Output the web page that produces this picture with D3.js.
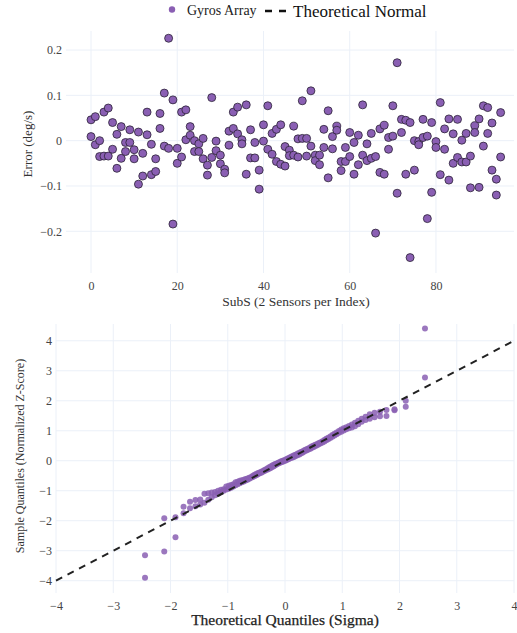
<!DOCTYPE html>
<html>
<head>
<meta charset="utf-8">
<script src="https://cdn.jsdelivr.net/npm/d3@7"></script>
<style>
  body { margin: 0; background: #fff; }
  svg { display: block; }
  text { font-family: "Liberation Serif", "Times New Roman", serif; }
</style>
</head>
<body>
<svg id="chart" width="517" height="633"></svg>
<script>
// Gyro error per sub-sensor index: two sensors read at every index (deg/s)
const sensorIndex = d3.range(96);
const readingA = [
  0.046, 0.053, 0.000, 0.063, 0.072, 0.040, 0.014, 0.031, -0.004, 0.024,
  -0.020, 0.019, -0.028, 0.063, -0.008, -0.040, 0.060, 0.105, 0.226, 0.090,
  -0.017, 0.063, 0.068, 0.031, 0.000, -0.007, 0.005, -0.054, 0.095, -0.001,
  -0.032, -0.063, 0.021, 0.063, 0.074, 0.002, 0.079, 0.024, -0.004, -0.065,
  0.035, 0.077, 0.016, 0.025, 0.035, -0.013, -0.021, 0.032, 0.004, 0.088,
  0.005, 0.110, -0.032, -0.032, 0.025, 0.066, 0.009, 0.032, -0.046, -0.015,
  0.018, -0.004, 0.012, 0.079, -0.007, 0.016, -0.035, 0.026, 0.034, 0.007,
  0.077, 0.172, 0.047, 0.045, 0.040, 0.000, -0.002, 0.047, 0.010, 0.040,
  -0.002, 0.084, 0.026, 0.048, 0.015, 0.047, 0.001, 0.016, -0.034, 0.033,
  0.048, 0.077, 0.073, 0.039, -0.085, 0.062
];
const readingB = [
  0.009, -0.009, -0.035, -0.034, -0.034, -0.019, -0.061, -0.039, -0.024, -0.004,
  -0.040, -0.096, -0.078, 0.013, -0.075, -0.068, 0.027, -0.012, -0.017, -0.184,
  -0.050, -0.036, 0.002, 0.012, -0.024, -0.024, -0.040, -0.076, -0.037, -0.022,
  -0.051, -0.071, -0.010, 0.027, 0.015, -0.007, -0.074, -0.038, -0.038, -0.107,
  -0.001, -0.019, -0.030, -0.046, -0.052, -0.056, -0.033, -0.032, -0.036, 0.005,
  -0.034, -0.012, -0.044, -0.053, -0.015, -0.082, -0.018, 0.023, -0.066, -0.046,
  -0.035, -0.074, -0.053, -0.032, -0.044, -0.039, -0.204, -0.070, -0.074, -0.019,
  0.010, -0.116, 0.018, -0.074, -0.258, -0.065, -0.009, 0.007, -0.172, -0.114,
  -0.015, -0.075, -0.019, -0.087, -0.050, -0.037, -0.047, -0.047, -0.104, 0.018,
  -0.103, -0.012, 0.016, -0.065, -0.120, -0.036
];

// Normal probability plot: theoretical quantiles (sigma) and sorted z-scores per sensor
const theoreticalQuantiles = [
  -2.445, -2.109, -1.913, -1.772, -1.659, -1.564, -1.480, -1.407, -1.340, -1.279,
  -1.222, -1.168, -1.118, -1.071, -1.026, -0.983, -0.942, -0.902, -0.864, -0.827,
  -0.791, -0.755, -0.721, -0.688, -0.655, -0.623, -0.592, -0.561, -0.531, -0.502,
  -0.472, -0.443, -0.415, -0.386, -0.358, -0.331, -0.303, -0.276, -0.250, -0.223,
  -0.196, -0.170, -0.144, -0.117, -0.091, -0.065, -0.039, -0.013,
  0.013, 0.039, 0.065, 0.091, 0.117, 0.144, 0.170, 0.196, 0.223, 0.250,
  0.276, 0.303, 0.331, 0.358, 0.386, 0.415, 0.443, 0.472, 0.502, 0.531,
  0.561, 0.592, 0.623, 0.655, 0.688, 0.721, 0.755, 0.791, 0.827, 0.864,
  0.902, 0.942, 0.983, 1.026, 1.071, 1.118, 1.168, 1.222, 1.279, 1.340,
  1.407, 1.480, 1.564, 1.659, 1.772, 1.913, 2.109, 2.445
];
const sampleQuantilesA = [
  -3.90, -3.03, -2.55, -1.75, -1.58, -1.52, -1.46, -1.40, -1.30, -1.22,
  -1.15, -1.10, -1.05, -1.00, -0.96, -0.93, -0.90, -0.86, -0.82, -0.78,
  -0.75, -0.72, -0.69, -0.66, -0.63, -0.60, -0.57, -0.54, -0.51, -0.48,
  -0.45, -0.42, -0.40, -0.37, -0.34, -0.31, -0.29, -0.27, -0.24, -0.21,
  -0.18, -0.15, -0.12, -0.09, -0.07, -0.05, -0.03, -0.01, 0.01, 0.03,
  0.06, 0.08, 0.10, 0.12, 0.14, 0.17, 0.19, 0.21, 0.24, 0.27,
  0.30, 0.33, 0.35, 0.38, 0.40, 0.43, 0.46, 0.49, 0.52, 0.55,
  0.58, 0.61, 0.64, 0.68, 0.72, 0.76, 0.80, 0.84, 0.88, 0.93,
  0.97, 1.01, 1.05, 1.08, 1.11, 1.15, 1.22, 1.30, 1.36, 1.40,
  1.45, 1.48, 1.49, 1.68, 1.80, 2.78
];
const sampleQuantilesB = [
  -3.15, -1.92, -1.88, -1.53, -1.37, -1.31, -1.29, -1.10, -1.08, -1.06,
  -1.04, -1.00, -0.97, -0.95, -0.86, -0.83, -0.81, -0.78, -0.72, -0.70,
  -0.67, -0.65, -0.63, -0.61, -0.59, -0.57, -0.54, -0.50, -0.47, -0.44,
  -0.41, -0.39, -0.37, -0.34, -0.31, -0.28, -0.25, -0.22, -0.19, -0.16,
  -0.13, -0.11, -0.09, -0.07, -0.04, -0.02, 0.00, 0.02, 0.04, 0.07,
  0.09, 0.12, 0.14, 0.17, 0.19, 0.21, 0.24, 0.26, 0.29, 0.31,
  0.34, 0.37, 0.39, 0.42, 0.45, 0.48, 0.51, 0.53, 0.56, 0.59,
  0.62, 0.65, 0.69, 0.73, 0.77, 0.81, 0.86, 0.90, 0.94, 0.99,
  1.04, 1.08, 1.12, 1.16, 1.21, 1.27, 1.33, 1.40, 1.47, 1.55,
  1.60, 1.63, 1.69, 1.72, 2.00, 4.41
];
const referenceLine = [-4, 4];   // y = x, the theoretical normal

// Tick labels
const errorXTicks = [0, 20, 40, 60, 80];
const errorYTicks = [-0.2, -0.1, 0, 0.1, 0.2];
const qqTicks = [-4, -3, -2, -1, 0, 1, 2, 3, 4];

const markerFill = "#8a5fb3";
const gridColor = "#ebf0f8";
const svg = d3.select("#chart");

function grid(g, xs, ys, xTicks, yTicks) {
  const [x0, x1] = xs.range();
  const [y0, y1] = ys.range();
  g.append("g").selectAll("line").data(xTicks).join("line")
    .attr("x1", d => xs(d)).attr("x2", d => xs(d))
    .attr("y1", y0).attr("y2", y1)
    .attr("stroke", gridColor).attr("stroke-width", 1);
  g.append("g").selectAll("line").data(yTicks).join("line")
    .attr("x1", x0).attr("x2", x1)
    .attr("y1", d => ys(d)).attr("y2", d => ys(d))
    .attr("stroke", gridColor).attr("stroke-width", 1);
}

function styleAxis(g) {
  g.select(".domain").remove();
  g.selectAll(".tick line").remove();
  g.attr("font-family", null);
  g.selectAll("text")
    .style("font-family", "'Liberation Serif', serif")
    .attr("font-size", 12)
    .attr("fill", "#444");
}

// ---------- Error scatter ----------
const ex = d3.scaleLinear().domain([-5.8, 98.1]).range([66, 514]);
const ey = d3.scaleLinear().domain([-0.292, 0.242]).range([273, 31]);
const errPanel = svg.append("g");
grid(errPanel, ex, ey, errorXTicks, errorYTicks);

const fmtErr = d => d === 0 ? "0" : d3.format(".1f")(d);
errPanel.append("g").attr("transform", "translate(0,273)")
  .call(d3.axisBottom(ex).tickValues(errorXTicks).tickSize(0).tickPadding(8))
  .call(styleAxis);
errPanel.append("g").attr("transform", "translate(66,0)")
  .call(d3.axisLeft(ey).tickValues(errorYTicks).tickFormat(fmtErr).tickSize(0).tickPadding(4))
  .call(styleAxis);

const errPoints = [];
sensorIndex.forEach((i, k) => {
  errPoints.push({ x: i, y: readingA[k] });
  errPoints.push({ x: i, y: readingB[k] });
});
errPanel.append("g").selectAll("circle").data(errPoints).join("circle")
  .attr("cx", d => ex(d.x)).attr("cy", d => ey(d.y))
  .attr("r", 4)
  .attr("fill", markerFill)
  .attr("stroke", "#2b2236").attr("stroke-width", 0.8);

errPanel.append("text")
  .attr("x", 296).attr("y", 306)
  .attr("text-anchor", "middle").attr("font-size", 13.5).attr("fill", "#333")
  .text("SubS (2 Sensors per Index)");
errPanel.append("text")
  .attr("transform", "translate(32,144) rotate(-90)")
  .attr("text-anchor", "middle").attr("font-size", 13).attr("fill", "#333")
  .text("Error (deg/s)");

// ---------- Q-Q plot ----------
const qx = d3.scaleLinear().domain([-4, 4]).range([56, 514]);
const qy = d3.scaleLinear().domain([-4.41, 4.56]).range([593, 324]);
const qqPanel = svg.append("g");
grid(qqPanel, qx, qy, qqTicks, qqTicks);

qqPanel.append("g").attr("transform", "translate(0,593)")
  .call(d3.axisBottom(qx).tickValues(qqTicks).tickSize(0).tickPadding(8))
  .call(styleAxis);
qqPanel.append("g").attr("transform", "translate(56,0)")
  .call(d3.axisLeft(qy).tickValues(qqTicks).tickSize(0).tickPadding(4))
  .call(styleAxis);

const qqPoints = [];
theoreticalQuantiles.forEach((t, k) => {
  qqPoints.push({ x: t, y: sampleQuantilesA[k] });
  qqPoints.push({ x: t, y: sampleQuantilesB[k] });
});
qqPanel.append("g").selectAll("circle").data(qqPoints).join("circle")
  .attr("cx", d => qx(d.x)).attr("cy", d => qy(d.y))
  .attr("r", 3)
  .attr("fill", markerFill).attr("fill-opacity", 0.85);

qqPanel.append("line")
  .attr("x1", qx(referenceLine[0])).attr("y1", qy(referenceLine[0]))
  .attr("x2", qx(referenceLine[1])).attr("y2", qy(referenceLine[1]))
  .attr("stroke", "#222").attr("stroke-width", 2)
  .attr("stroke-dasharray", "7,6");

qqPanel.append("text")
  .attr("x", 285).attr("y", 625)
  .attr("text-anchor", "middle").attr("font-size", 15.5).attr("fill", "#222")
  .attr("stroke", "#222").attr("stroke-width", 0.25)
  .text("Theoretical Quantiles (Sigma)");
qqPanel.append("text")
  .attr("transform", "translate(24,456) rotate(-90)")
  .attr("text-anchor", "middle").attr("font-size", 12).attr("fill", "#333")
  .text("Sample Quantiles (Normalized Z-Score)");

// ---------- Legend ----------
const legend = svg.append("g");
legend.append("circle").attr("cx", 172).attr("cy", 9.5).attr("r", 3.2)
  .attr("fill", markerFill);
legend.append("text").attr("x", 187).attr("y", 15)
  .attr("font-size", 14).attr("fill", "#222").text("Gyros Array");
legend.append("line").attr("x1", 265).attr("x2", 286).attr("y1", 11).attr("y2", 11)
  .attr("stroke", "#111").attr("stroke-width", 2.5).attr("stroke-dasharray", "7,7");
legend.append("text").attr("x", 293).attr("y", 16.5)
  .attr("font-size", 17).attr("fill", "#111").text("Theoretical Normal");
</script>
</body>
</html>
